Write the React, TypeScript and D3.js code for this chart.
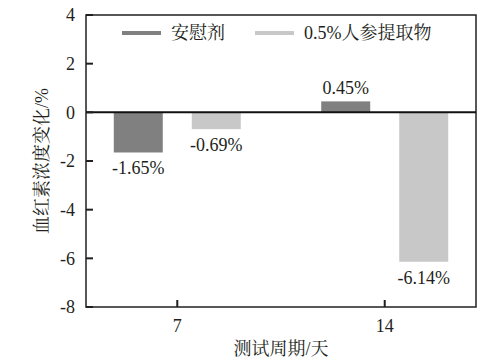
import React from "react";
import * as d3 from "d3";

const categories = ["7", "14"];
const seriesNames = ["安慰剂", "0.5%人参提取物"];
const placebo = [-1.65, 0.45];
const ginseng = [-0.69, -6.14];
const yTicks = [4, 2, 0, -2, -4, -6, -8];
const colors = ["#808080", "#c8c8c8"];

const W = 501, H = 363;
const M = { left: 86, right: 25, top: 15, bottom: 56 };
const FONT = "'Liberation Serif', 'Times New Roman', 'Noto Serif CJK SC', 'Noto Sans CJK SC', serif";

export default function App() {
  const x0 = M.left, x1 = W - M.right;
  const y0 = M.top, y1 = H - M.bottom;
  const x = d3.scalePoint<string>().domain(categories).range([x0, x1]).padding(0.44);
  const y = d3.scaleLinear().domain([-8, 4]).range([y1, y0]);
  const inner = d3.scaleBand<number>().domain([0, 1]).range([-63.5, 63.5]).paddingInner(0.372).paddingOuter(0);
  const series = [placebo, ginseng];
  const bw = inner.bandwidth();
  const axisColor = "#231f20";
  return (
    <svg width={W} height={H} style={{ position: "absolute", left: 0, top: 0, background: "#fff" }} fontFamily={FONT}>
      {series.map((vals, si) =>
        vals.map((v, ci) => {
          const cx = (x(categories[ci]) as number) + (inner(si) as number);
          const yt = y(Math.max(0, v));
          const yb = y(Math.min(0, v));
          const label = `${v.toFixed(2)}%`;
          const ly = v >= 0 ? yt - 7 : yb + 22;
          return (
            <g key={`${si}-${ci}`}>
              <rect x={cx} y={yt} width={bw} height={yb - yt} fill={colors[si]} />
              <text x={cx + bw / 2} y={ly} textAnchor="middle" fontSize={18} fill="#231f20">{label}</text>
            </g>
          );
        })
      )}
      <rect x={x0} y={y0} width={x1 - x0} height={y1 - y0} fill="none" stroke={axisColor} strokeWidth={1.5} />
      <line x1={x0} x2={x1} y1={y(0)} y2={y(0)} stroke="#111" strokeWidth={2} />
      {yTicks.map((t) => (
        <g key={t}>
          <line x1={x0} x2={x0 + 7} y1={y(t)} y2={y(t)} stroke={axisColor} strokeWidth={2} />
          <text x={x0 - 11} y={y(t)} dy="0.35em" textAnchor="end" fontSize={18} fill="#231f20">{t}</text>
        </g>
      ))}
      {categories.map((c) => (
        <g key={c}>
          <line x1={x(c)} x2={x(c)} y1={y1} y2={y1 - 7} stroke={axisColor} strokeWidth={2} />
          <text x={x(c)} y={y1 + 25} textAnchor="middle" fontSize={18} fill="#231f20">{c}</text>
        </g>
      ))}
      <text x={281} y={355} textAnchor="middle" fontSize={18} fill="#231f20">测试周期/天</text>
      <text transform={`translate(42,${(y0 + y1) / 2}) rotate(-90)`} textAnchor="middle" dy="0.35em" fontSize={18} fill="#231f20">血红素浓度变化/%</text>
      {seriesNames.map((n, i) => {
        const lx = [122, 255][i];
        return (
          <g key={n}>
            <line x1={lx} x2={lx + 39} y1={33} y2={33} stroke={colors[i]} strokeWidth={4} />
            <text x={lx + 49} y={39} fontSize={18} fill="#231f20">{n}</text>
          </g>
        );
      })}
    </svg>
  );
}
